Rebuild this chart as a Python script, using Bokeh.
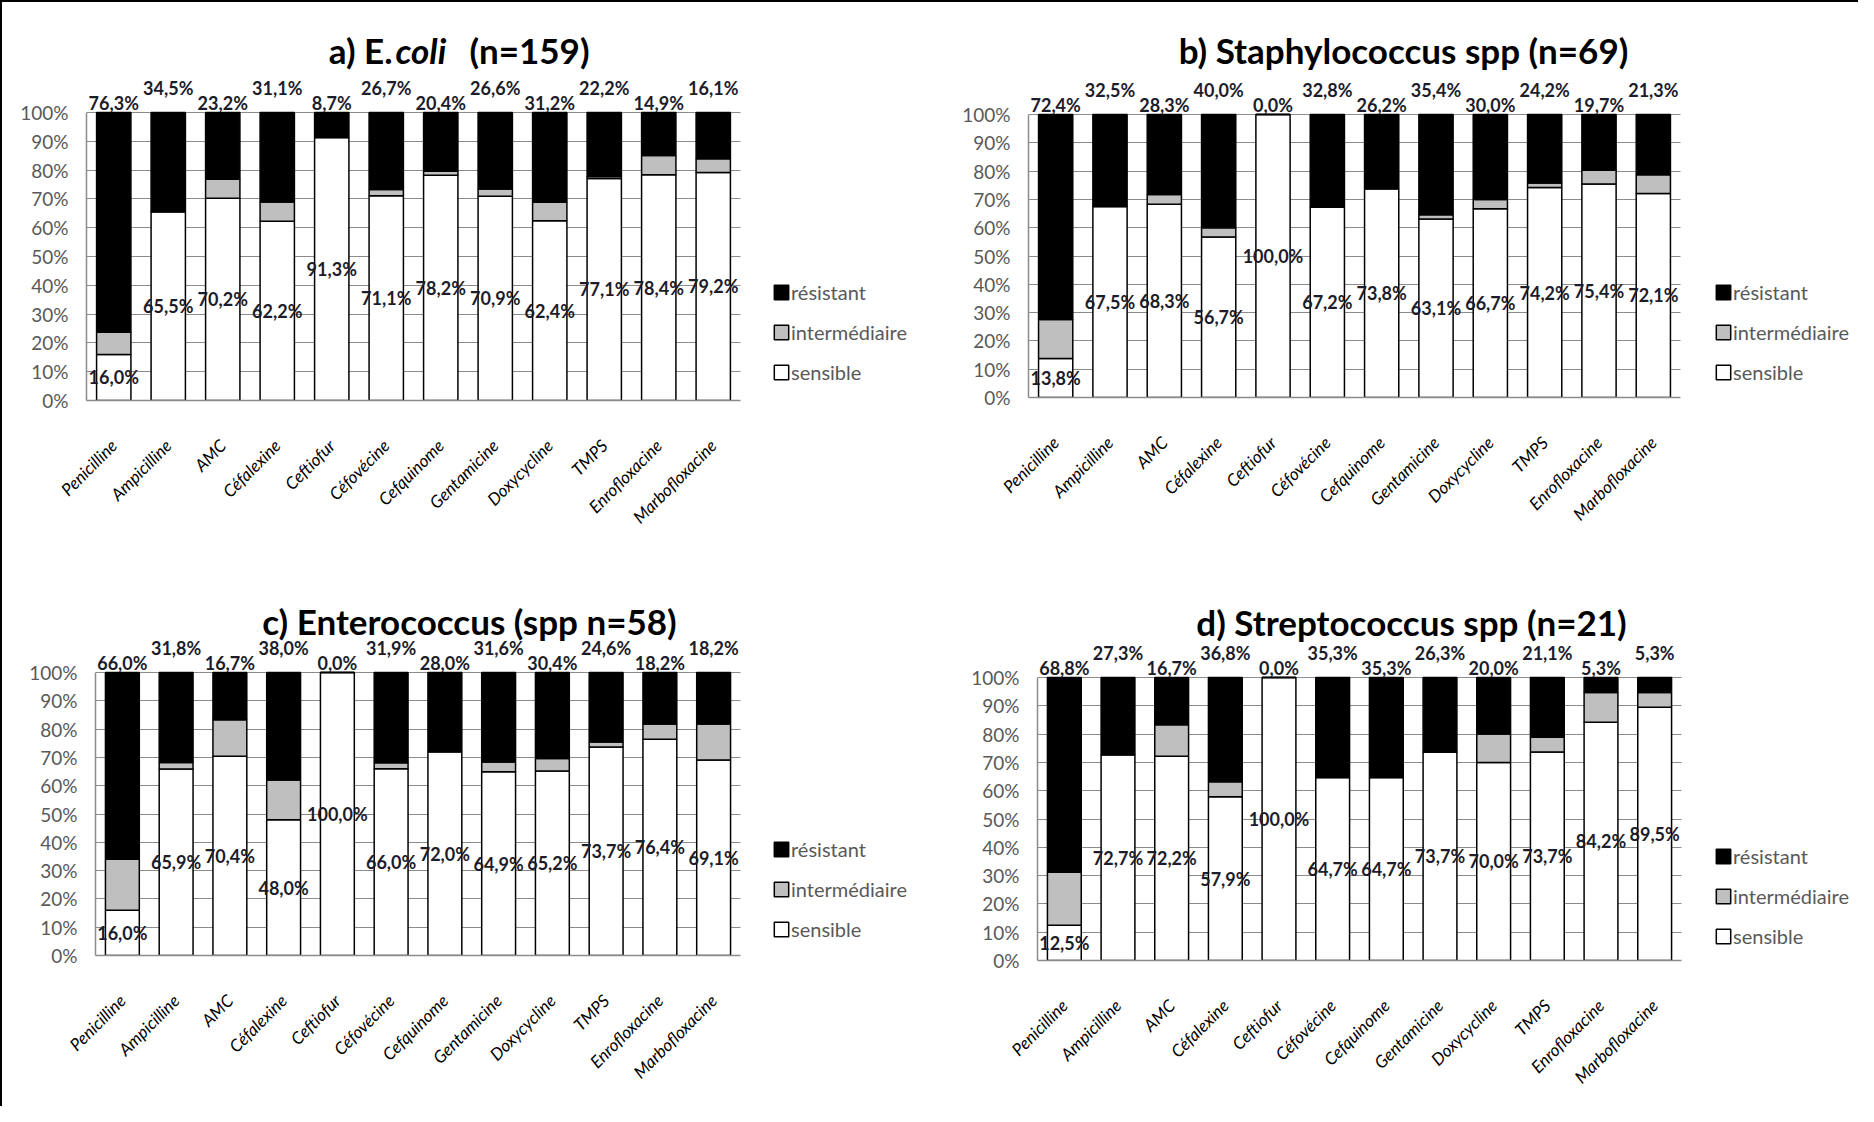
import math
from bokeh.plotting import figure
from bokeh.models import (ColumnDataSource, Range1d, FixedTicker, BoxAnnotation,
                          LabelSet, Label, Legend, LegendItem)
from bokeh.core.properties import value
from bokeh.layouts import column, row
from bokeh.embed import file_html
from bokeh.resources import INLINE

# ---------------- data ----------------
ANTIBIOTIQUES = ["Penicilline", "Ampicilline", "AMC", "Céfalexine", "Ceftiofur",
                 "Céfovécine", "Cefquinome", "Gentamicine", "Doxycycline", "TMPS",
                 "Enrofloxacine", "Marbofloxacine"]
CLASSES = ["sensible", "intermédiaire", "résistant"]
Y_TICKS = [0, 10, 20, 30, 40, 50, 60, 70, 80, 90, 100]
Y_TICK_LABELS = ["0%", "10%", "20%", "30%", "40%", "50%", "60%", "70%", "80%", "90%", "100%"]

# a) E. coli (n=159)
ECOLI_SENSIBLE = [16.0, 65.5, 70.2, 62.2, 91.3, 71.1, 78.2, 70.9, 62.4, 77.1, 78.4, 79.2]
ECOLI_INTERMEDIAIRE = [7.7, 0.0, 6.6, 6.7, 0.0, 2.2, 1.4, 2.5, 6.4, 0.7, 6.7, 4.7]
ECOLI_RESISTANT = [76.3, 34.5, 23.2, 31.1, 8.7, 26.7, 20.4, 26.6, 31.2, 22.2, 14.9, 16.1]

# b) Staphylococcus spp (n=69)
STAPH_SENSIBLE = [13.8, 67.5, 68.3, 56.7, 100.0, 67.2, 73.8, 63.1, 66.7, 74.2, 75.4, 72.1]
STAPH_INTERMEDIAIRE = [13.8, 0.0, 3.4, 3.3, 0.0, 0.0, 0.0, 1.5, 3.3, 1.6, 4.9, 6.6]
STAPH_RESISTANT = [72.4, 32.5, 28.3, 40.0, 0.0, 32.8, 26.2, 35.4, 30.0, 24.2, 19.7, 21.3]

# c) Enterococcus (spp n=58)
ENTERO_SENSIBLE = [16.0, 65.9, 70.4, 48.0, 100.0, 66.0, 72.0, 64.9, 65.2, 73.7, 76.4, 69.1]
ENTERO_INTERMEDIAIRE = [18.0, 2.3, 12.9, 14.0, 0.0, 2.1, 0.0, 3.5, 4.4, 1.7, 5.4, 12.7]
ENTERO_RESISTANT = [66.0, 31.8, 16.7, 38.0, 0.0, 31.9, 28.0, 31.6, 30.4, 24.6, 18.2, 18.2]

# d) Streptococcus spp (n=21)
STREP_SENSIBLE = [12.5, 72.7, 72.2, 57.9, 100.0, 64.7, 64.7, 73.7, 70.0, 73.7, 84.2, 89.5]
STREP_INTERMEDIAIRE = [18.7, 0.0, 11.1, 5.3, 0.0, 0.0, 0.0, 0.0, 10.0, 5.2, 10.5, 5.2]
STREP_RESISTANT = [68.8, 27.3, 16.7, 36.8, 0.0, 35.3, 35.3, 26.3, 20.0, 21.1, 5.3, 5.3]

# ---------------- style ----------------
FILL = ["white", "#bfbfbf", "black"]
GRID = "#8c8c8c"
TXT = "#1c1c2a"
GREY_TXT = "#595959"
FONT = "Lato"


def pct(v):
    return ("%.1f" % v).replace(".", ",") + "%"


def panel(title_parts, sens, inter, res, geo):
    (left, fw, plot_w, top, fh, bottom, h100, title_y, leg_x, leg_y) = geo
    n = len(ANTIBIOTIQUES)
    slot = plot_w / n
    p = figure(x_range=Range1d(-0.5, -0.5 + fw / slot),
               y_range=Range1d(0, 100.0 * fh / h100),
               frame_width=fw, frame_height=fh,
               min_border_left=left, min_border_right=0,
               min_border_top=top, min_border_bottom=bottom,
               output_backend="svg", toolbar_location=None,
               background_fill_color="white", border_fill_color="white",
               outline_line_color=None)

    pos = list(range(n))
    src = ColumnDataSource(dict(
        x=pos, sens=sens, inter=inter, res=res,
        mid=[v / 2 for v in sens],
        stxt=[pct(v) for v in sens],
        rtxt=[pct(v) for v in res],
        lift=[10 if k % 2 == 0 else 25 for k in pos],
    ))

    # hide the grid to the right of the last bar (legend area)
    p.add_layout(BoxAnnotation(left=n - 0.5, fill_color="white", fill_alpha=1,
                               line_color=None, level="underlay"))

    rs = p.vbar_stack(["sens", "inter", "res"], x="x", width=0.63, source=src,
                      fill_color=FILL, line_color="black", line_width=1.5)

    p.add_layout(LabelSet(x="x", y="mid", text="stxt", source=src,
                          text_align="center", text_baseline="middle",
                          text_font=value(FONT), text_font_style="bold",
                          text_font_size="18px", text_color=TXT))
    p.add_layout(LabelSet(x="x", y=100, y_offset="lift", text="rtxt", source=src,
                          text_align="center", text_baseline="middle",
                          text_font=value(FONT), text_font_style="bold",
                          text_font_size="18px", text_color=TXT))

    # title (screen units relative to the frame)
    for txt, tx, align, style in title_parts:
        p.add_layout(Label(x=tx, y=title_y, x_units="screen", y_units="screen",
                           text=txt, text_align=align, text_baseline="middle",
                           text_font=FONT, text_font_style=style,
                           text_font_size="35px", text_color="black"))

    items = [LegendItem(label=CLASSES[k], renderers=[rs[k]]) for k in (2, 1, 0)]
    leg = Legend(items=items, location=(leg_x, leg_y), padding=0, margin=0,
                 spacing=16, glyph_width=18, glyph_height=18, label_height=20,
                 label_standoff=1, border_line_color=None, background_fill_alpha=0,
                 label_text_font=FONT, label_text_font_size="20px",
                 label_text_color=GREY_TXT)
    p.add_layout(leg, "center")

    p.xgrid.visible = False
    p.ygrid.ticker = FixedTicker(ticks=Y_TICKS)
    p.ygrid.grid_line_color = GRID
    p.ygrid.grid_line_width = 1.2

    p.yaxis.bounds = (0, 100)
    p.yaxis.ticker = FixedTicker(ticks=Y_TICKS)
    p.yaxis.major_label_overrides = {t: l for t, l in zip(Y_TICKS, Y_TICK_LABELS)}
    p.yaxis.minor_tick_line_color = None
    p.yaxis.major_tick_in = 0
    p.yaxis.major_tick_out = 0
    p.yaxis.axis_line_color = GRID
    p.yaxis.axis_line_width = 1.5
    p.yaxis.major_label_standoff = 18
    p.yaxis.major_label_text_font = FONT
    p.yaxis.major_label_text_font_size = "19px"
    p.yaxis.major_label_text_color = GREY_TXT

    p.xaxis.bounds = (-0.5, n - 0.5)
    p.xaxis.ticker = FixedTicker(ticks=pos, minor_ticks=[])
    p.xaxis.major_label_overrides = {k: name for k, name in zip(pos, ANTIBIOTIQUES)}
    p.xaxis.major_tick_in = 0
    p.xaxis.major_tick_out = 0
    p.xaxis.minor_tick_line_color = None
    p.xaxis.axis_line_color = GRID
    p.xaxis.axis_line_width = 1.5
    p.xaxis.major_label_orientation = math.pi / 4
    p.xaxis.major_label_standoff = 42
    p.xaxis.major_label_text_font = FONT
    p.xaxis.major_label_text_font_style = "italic"
    p.xaxis.major_label_text_font_size = "17px"
    p.xaxis.major_label_text_color = "black"
    return p


# geometry: left, frame_w, bars_w, top, frame_h, bottom, px of 0-100%, title_y, legend_x, legend_y
pa = panel([("a) E.", 306, "right", "bold"), ("coli", 309, "left", "bold italic"),
            ("(n=159)", 383, "left", "bold")],
           ECOLI_SENSIBLE, ECOLI_INTERMEDIAIRE, ECOLI_RESISTANT,
           (84, 845, 654, 22, 376, 155, 288, 351, 686, 16))
pb = panel([("b) Staphylococcus spp (n=69)", 375, "center", "bold")],
           STAPH_SENSIBLE, STAPH_INTERMEDIAIRE, STAPH_RESISTANT,
           (97, 830, 652, 22, 373, 158, 283, 348, 686, 13))
pc = panel([("c) Enterococcus (spp n=58)", 374, "center", "bold")],
           ENTERO_SENSIBLE, ENTERO_INTERMEDIAIRE, ENTERO_RESISTANT,
           (93, 836, 645, 29, 371, 151, 283, 335, 677, 14))
pd = panel([("d) Streptococcus spp (n=21)", 374, "center", "bold")],
           STREP_SENSIBLE, STREP_INTERMEDIAIRE, STREP_RESISTANT,
           (106, 821, 644, 29, 376, 146, 283, 339, 677, 12))

layout = column(row(pa, pb), row(pc, pd),
                styles={"border-top": "2px solid black", "border-left": "2px solid black"})

open("out.html", "w").write(file_html(layout, INLINE))
